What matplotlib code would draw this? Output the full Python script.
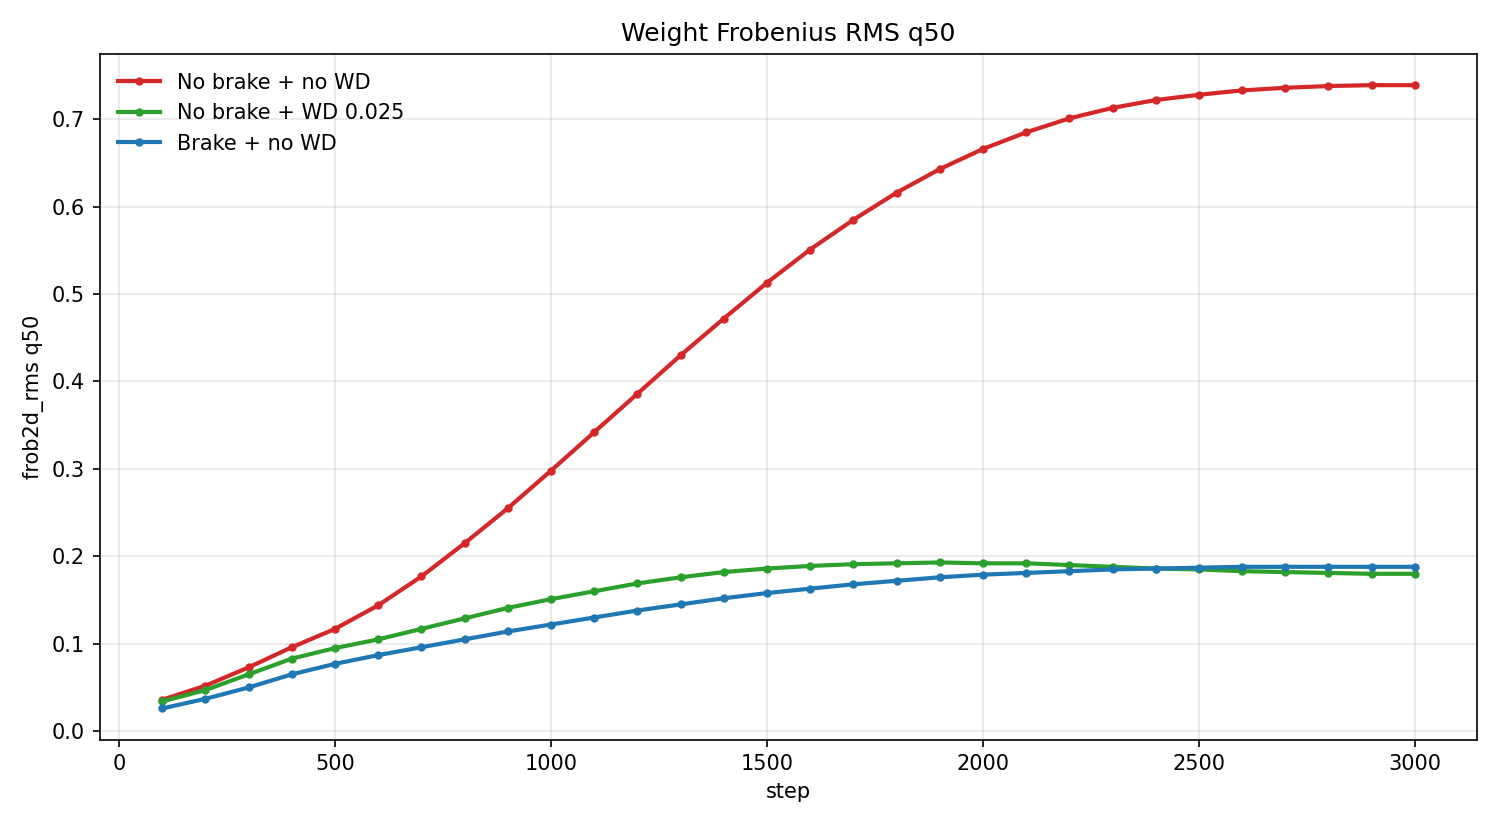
import numpy as np
import matplotlib
matplotlib.use('Agg')
import matplotlib.pyplot as plt

steps = list(range(100, 3001, 100))

red_no_brake_no_wd = [0.036, 0.052, 0.073, 0.096, 0.117, 0.144, 0.177, 0.215, 0.255, 0.298,
                      0.342, 0.386, 0.430, 0.472, 0.513, 0.551, 0.585, 0.616, 0.643, 0.666,
                      0.685, 0.701, 0.713, 0.722, 0.728, 0.733, 0.736, 0.738, 0.739, 0.739]
green_no_brake_wd = [0.034, 0.047, 0.065, 0.083, 0.095, 0.105, 0.117, 0.129, 0.141, 0.151,
                     0.160, 0.169, 0.176, 0.182, 0.186, 0.189, 0.191, 0.192, 0.193, 0.192,
                     0.192, 0.190, 0.188, 0.186, 0.185, 0.183, 0.182, 0.181, 0.180, 0.180]
blue_brake_no_wd = [0.026, 0.037, 0.050, 0.065, 0.077, 0.087, 0.096, 0.105, 0.114, 0.122,
                    0.130, 0.138, 0.145, 0.152, 0.158, 0.163, 0.168, 0.172, 0.176, 0.179,
                    0.181, 0.183, 0.185, 0.186, 0.187, 0.188, 0.188, 0.188, 0.188, 0.188]

labels = ['No brake + no WD', 'No brake + WD 0.025', 'Brake + no WD']
colors = ['#d62728', '#2ca02c', '#1f77b4']

fig, ax = plt.subplots(figsize=(10, 5.5), dpi=150)
for ys, lab, c in zip([red_no_brake_no_wd, green_no_brake_wd, blue_brake_no_wd], labels, colors):
    ax.plot(steps, ys, '-o', color=c, linewidth=2, markersize=3, label=lab)

ax.set_title('Weight Frobenius RMS q50')
ax.set_xlabel('step')
ax.set_ylabel('frob2d_rms q50')
ax.grid(True, alpha=0.3)
ax.legend(frameon=False, loc='upper left')

plt.tight_layout()
fig.savefig('out.png', dpi=150)
